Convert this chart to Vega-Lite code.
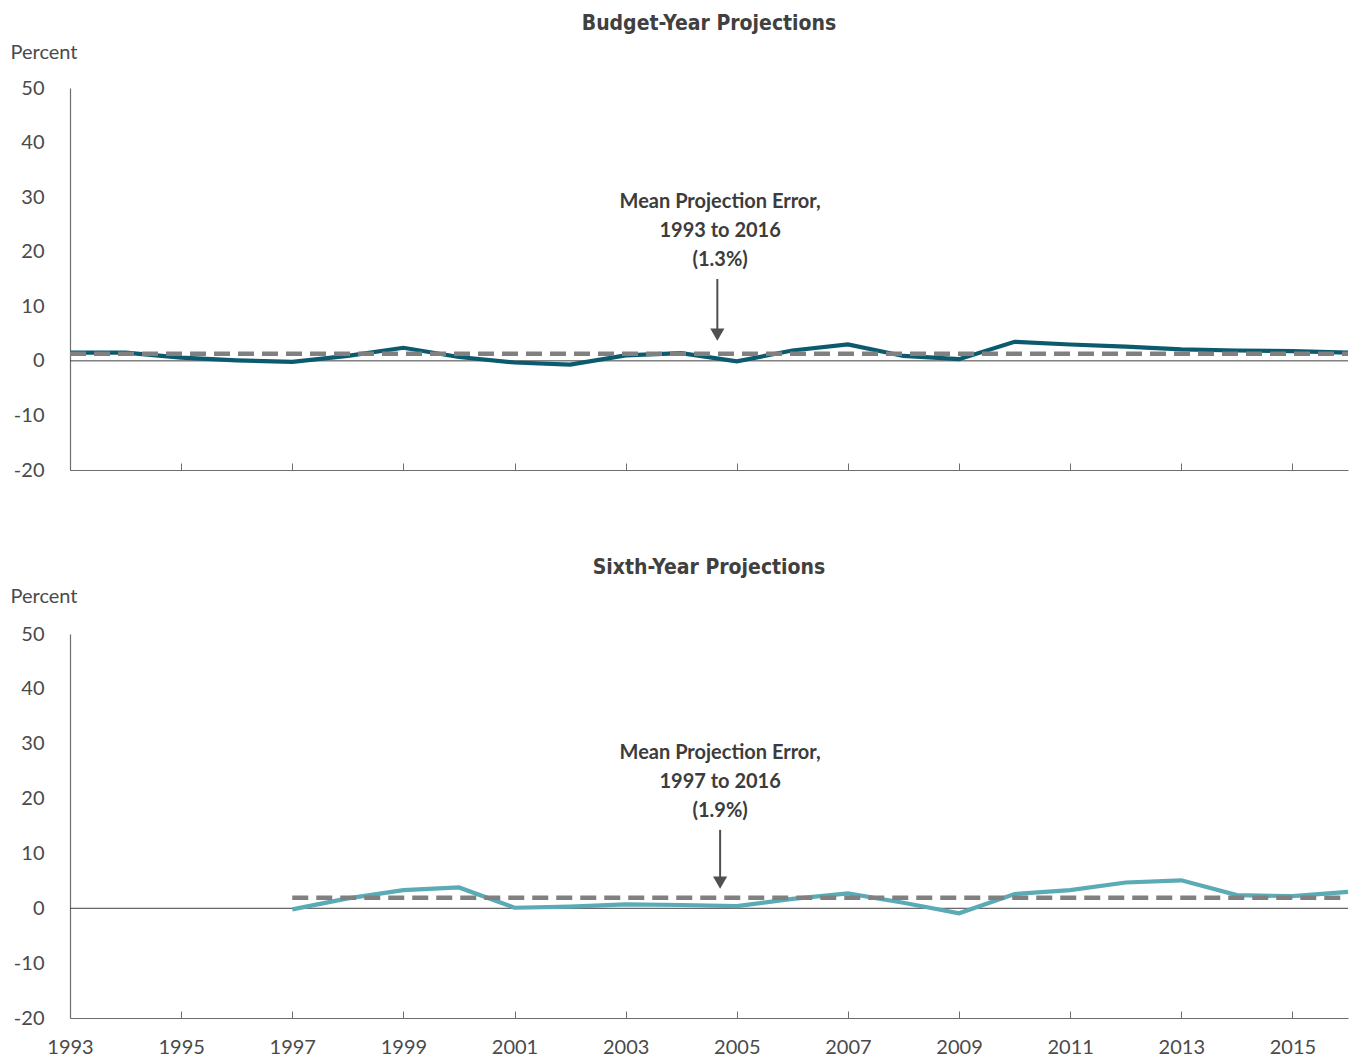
{
  "$schema": "https://vega.github.io/schema/vega-lite/v6.json",
  "background": "white",
  "padding": {"left": 10, "top": 13, "right": 5, "bottom": 5},
  "spacing": 77,
  "config": {
    "view": {"stroke": null},
    "font": "Lato",
    "title": {"font": "Liberation Sans Narrow, DejaVu Sans Condensed, Roboto", "fontSize": 21, "fontWeight": "bold", "color": "#404040", "anchor": "middle", "offset": 8},
    "axis": {"labelFont": "Lato", "labelFontSize": 20, "labelColor": "#4a4a4a", "domainColor": "#6e6e6e", "tickColor": "#6e6e6e", "grid": false, "titleFont": "Lato", "titleFontWeight": "normal", "titleFontSize": 20, "titleColor": "#4a4a4a", "labelFlush": false, "labelExpr": "replace(datum.label, '−', '-')"}
  },
  "datasets": {
    "budget": [
      {"year": 1993, "value": 1.5}, {"year": 1994, "value": 1.5}, {"year": 1995, "value": 0.6},
      {"year": 1996, "value": 0.1}, {"year": 1997, "value": -0.2}, {"year": 1998, "value": 0.9},
      {"year": 1999, "value": 2.4}, {"year": 2000, "value": 0.7}, {"year": 2001, "value": -0.3},
      {"year": 2002, "value": -0.7}, {"year": 2003, "value": 1.0}, {"year": 2004, "value": 1.4},
      {"year": 2005, "value": -0.1}, {"year": 2006, "value": 1.9}, {"year": 2007, "value": 3.0},
      {"year": 2008, "value": 0.9}, {"year": 2009, "value": 0.3}, {"year": 2010, "value": 3.5},
      {"year": 2011, "value": 3.0}, {"year": 2012, "value": 2.6}, {"year": 2013, "value": 2.1},
      {"year": 2014, "value": 1.9}, {"year": 2015, "value": 1.8}, {"year": 2016, "value": 1.5}
    ],
    "sixth": [
      {"year": 1997, "value": -0.2}, {"year": 1998, "value": 1.8}, {"year": 1999, "value": 3.3},
      {"year": 2000, "value": 3.8}, {"year": 2001, "value": 0.1}, {"year": 2002, "value": 0.3},
      {"year": 2003, "value": 0.7}, {"year": 2004, "value": 0.6}, {"year": 2005, "value": 0.4},
      {"year": 2006, "value": 1.7}, {"year": 2007, "value": 2.7}, {"year": 2008, "value": 1.0},
      {"year": 2009, "value": -0.9}, {"year": 2010, "value": 2.6}, {"year": 2011, "value": 3.3},
      {"year": 2012, "value": 4.7}, {"year": 2013, "value": 5.1}, {"year": 2014, "value": 2.4},
      {"year": 2015, "value": 2.2}, {"year": 2016, "value": 3.0}
    ],
    "meanBudget": [{"year": 1993, "value": 1.3}, {"year": 2016, "value": 1.3}],
    "meanSixth": [{"year": 1997, "value": 1.9}, {"year": 2016, "value": 1.9}],
    "one": [{}]
  },
  "vconcat": [
    {
      "title": "Budget-Year Projections",
      "width": 1278,
      "height": 382,
      "layer": [
        {
          "data": {"name": "one"},
          "mark": {"type": "rule", "stroke": "#404040", "strokeWidth": 1},
          "encoding": {"y": {"datum": 0, "type": "quantitative"}}
        },
        {
          "data": {"name": "budget"},
          "mark": {"type": "line", "stroke": "#0b5a6e", "strokeWidth": 4.2},
          "encoding": {
            "x": {"field": "year", "type": "quantitative", "scale": {"domain": [1993, 2016], "nice": false, "zero": false},
              "axis": {"title": null, "labels": false, "values": [1993,1995,1997,1999,2001,2003,2005,2007,2009,2011,2013,2015], "tickSize": -7, "domainWidth": 1.2}},
            "y": {"field": "value", "type": "quantitative", "scale": {"domain": [-20, 50], "nice": false},
              "axis": {"title": "Percent", "titleAngle": 0, "titleAlign": "left", "titleBaseline": "middle", "titleX": -60, "titleY": -36, "values": [-20,-10,0,10,20,30,40,50], "ticks": false, "labelPadding": 26, "domainWidth": 1.2}}
          }
        },
        {
          "data": {"name": "meanBudget"},
          "mark": {"type": "line", "stroke": "#808080", "strokeWidth": 4.5, "strokeDash": [16, 8]},
          "encoding": {"x": {"field": "year", "type": "quantitative"}, "y": {"field": "value", "type": "quantitative"}}
        },
        {
          "data": {"name": "one"},
          "mark": {"type": "text", "text": ["Mean Projection Error,", "1993 to 2016", "(1.3%)"], "font": "Lato", "fontWeight": "bold", "fontSize": 20, "lineHeight": 29, "align": "center", "baseline": "middle", "color": "#3c3c3c"},
          "encoding": {"x": {"datum": 2004.7, "type": "quantitative"}, "y": {"datum": 29.1, "type": "quantitative"}}
        },
        {
          "data": {"name": "one"},
          "mark": {"type": "rule", "stroke": "#505050", "strokeWidth": 2},
          "encoding": {"x": {"datum": 2004.65, "type": "quantitative"}, "y": {"datum": 15.0, "type": "quantitative"}, "y2": {"datum": 5.8}}
        },
        {
          "data": {"name": "one"},
          "mark": {"type": "point", "shape": "triangle-down", "filled": true, "color": "#505050", "size": 200, "opacity": 1},
          "encoding": {"x": {"datum": 2004.65, "type": "quantitative"}, "y": {"datum": 4.8, "type": "quantitative"}}
        }
      ]
    },
    {
      "title": "Sixth-Year Projections",
      "width": 1278,
      "height": 384,
      "layer": [
        {
          "data": {"name": "one"},
          "mark": {"type": "rule", "stroke": "#404040", "strokeWidth": 1},
          "encoding": {"y": {"datum": 0, "type": "quantitative"}}
        },
        {
          "data": {"name": "sixth"},
          "mark": {"type": "line", "stroke": "#5aabb5", "strokeWidth": 4.2},
          "encoding": {
            "x": {"field": "year", "type": "quantitative", "scale": {"domain": [1993, 2016], "nice": false, "zero": false},
              "axis": {"title": null, "format": "d", "values": [1993,1995,1997,1999,2001,2003,2005,2007,2009,2011,2013,2015], "tickSize": -7, "labelPadding": 26, "domainWidth": 1.2}},
            "y": {"field": "value", "type": "quantitative", "scale": {"domain": [-20, 50], "nice": false},
              "axis": {"title": "Percent", "titleAngle": 0, "titleAlign": "left", "titleBaseline": "middle", "titleX": -60, "titleY": -38, "values": [-20,-10,0,10,20,30,40,50], "ticks": false, "labelPadding": 26, "domainWidth": 1.2}}
          }
        },
        {
          "data": {"name": "meanSixth"},
          "mark": {"type": "line", "stroke": "#808080", "strokeWidth": 4.5, "strokeDash": [16, 8]},
          "encoding": {"x": {"field": "year", "type": "quantitative"}, "y": {"field": "value", "type": "quantitative"}}
        },
        {
          "data": {"name": "one"},
          "mark": {"type": "text", "text": ["Mean Projection Error,", "1997 to 2016", "(1.9%)"], "font": "Lato", "fontWeight": "bold", "fontSize": 20, "lineHeight": 29, "align": "center", "baseline": "middle", "color": "#3c3c3c"},
          "encoding": {"x": {"datum": 2004.7, "type": "quantitative"}, "y": {"datum": 28.3, "type": "quantitative"}}
        },
        {
          "data": {"name": "one"},
          "mark": {"type": "rule", "stroke": "#505050", "strokeWidth": 2},
          "encoding": {"x": {"datum": 2004.7, "type": "quantitative"}, "y": {"datum": 14.3, "type": "quantitative"}, "y2": {"datum": 5.6}}
        },
        {
          "data": {"name": "one"},
          "mark": {"type": "point", "shape": "triangle-down", "filled": true, "color": "#505050", "size": 200, "opacity": 1},
          "encoding": {"x": {"datum": 2004.7, "type": "quantitative"}, "y": {"datum": 4.7, "type": "quantitative"}}
        }
      ]
    }
  ]
}
